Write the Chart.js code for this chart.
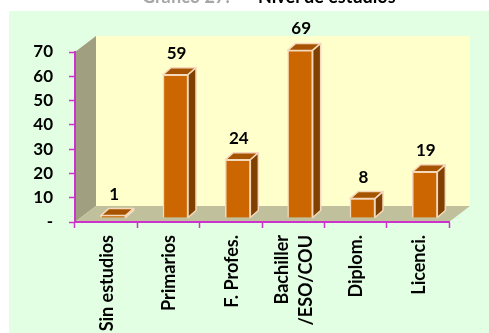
<!DOCTYPE html>
<html>
<head>
<meta charset="utf-8">
<style>
html, body { margin: 0; padding: 0; background: #fff; overflow: hidden; }
canvas { display: block; }
</style>
<script src="https://cdn.jsdelivr.net/npm/chart.js@4/dist/chart.umd.min.js"></script>
</head>
<body>
<canvas id="niveles" width="489" height="333"></canvas>
<script>
const categorias = ['Sin estudios', 'Primarios', 'F. Profes.', ['Bachiller', '/ESO/COU'], 'Diplom.', 'Licenci.'];
const valores = [1, 59, 24, 69, 8, 19];

const FUENTE = 'Lato, Carlito, sans-serif';
const MAGENTA = '#CC33CC';
// profundidad del "3D"
const fondoX = 21, fondoY = -16;
const barraX = 7, barraY = -4;
const ladoX = 8, ladoY = -7;

const decoracion = {
    id: 'decoracion',
    beforeDraw(chart) {
        const c = chart.ctx, a = chart.chartArea;
        c.save();
        c.fillStyle = '#E3FFE3';
        c.fillRect(9, 11, 480, 322);
        // titulo, cortado por arriba como en el original
        c.textBaseline = 'alphabetic';
        c.textAlign = 'left';
        c.font = 'bold 18px ' + FUENTE;
        c.fillStyle = '#A6A6A6';
        c.fillText('Gráfico 27.-', 142, 3);
        c.fillStyle = '#000';
        c.fillText('Nivel de estudios', 258, 3);
        // pared del fondo
        c.fillStyle = '#FFFFCC';
        c.fillRect(a.left + fondoX, a.top + fondoY, a.width, a.height);
        // pared lateral
        c.fillStyle = '#A0A080';
        c.beginPath();
        c.moveTo(a.left, a.top);
        c.lineTo(a.left + fondoX, a.top + fondoY);
        c.lineTo(a.left + fondoX, a.bottom + fondoY);
        c.lineTo(a.left, a.bottom);
        c.fill();
        // suelo
        c.fillStyle = '#C0C09C';
        c.beginPath();
        c.moveTo(a.left, a.bottom);
        c.lineTo(a.left + fondoX, a.bottom + fondoY);
        c.lineTo(a.right + fondoX, a.bottom + fondoY);
        c.lineTo(a.right, a.bottom);
        c.fill();
        c.restore();
    },
    beforeDatasetsDraw(chart) {
        const c = chart.ctx;
        c.save();
        c.translate(barraX, barraY);
        chart.getDatasetMeta(0).data.forEach(function (b) {
            const izq = b.x - b.width / 2, der = b.x + b.width / 2;
            c.lineWidth = 1.5;
            c.strokeStyle = '#F5D9BC';
            c.lineJoin = 'round';
            // cara de arriba
            c.fillStyle = '#A65300';
            c.beginPath();
            c.moveTo(izq, b.y);
            c.lineTo(izq + ladoX, b.y + ladoY);
            c.lineTo(der + ladoX, b.y + ladoY);
            c.lineTo(der, b.y);
            c.closePath();
            c.fill();
            c.stroke();
            // cara lateral
            c.fillStyle = '#804000';
            c.beginPath();
            c.moveTo(der, b.y);
            c.lineTo(der + ladoX, b.y + ladoY);
            c.lineTo(der + ladoX, b.base + ladoY);
            c.lineTo(der, b.base);
            c.closePath();
            c.fill();
            c.stroke();
        });
    },
    afterDatasetsDraw(chart) {
        const c = chart.ctx;
        c.restore();
        c.save();
        c.font = 'bold 17px ' + FUENTE;
        c.fillStyle = '#000';
        c.textAlign = 'center';
        c.textBaseline = 'alphabetic';
        chart.getDatasetMeta(0).data.forEach(function (b, i) {
            c.fillText(valores[i], b.x + 8, b.y - 20);
        });
        // etiquetas del eje x, giradas, a mano por las de dos lineas
        c.font = 'bold 18px ' + FUENTE;
        c.textAlign = 'right';
        c.textBaseline = 'middle';
        const sx = chart.scales.x;
        categorias.forEach(function (cat, i) {
            const lineas = [].concat(cat);
            lineas.forEach(function (txt, j) {
                const x = sx.getPixelForValue(i) + 1 + (j - (lineas.length - 1) / 2) * 24;
                c.save();
                c.translate(x, 235);
                c.rotate(-Math.PI / 2);
                c.fillText(txt, 0, 0);
                c.restore();
            });
        });
        c.restore();
    }
};

new Chart(document.getElementById('niveles').getContext('2d'), {
    type: 'bar',
    data: {
        labels: categorias,
        datasets: [{
            data: valores,
            backgroundColor: '#CC6600',
            borderColor: '#F5D9BC',
            borderWidth: 1.5,
            barThickness: 25
        }]
    },
    plugins: [decoracion],
    options: {
        responsive: false,
        animation: false,
        layout: { padding: { top: 52, right: 40, left: 0, bottom: 0 } },
        plugins: {
            legend: { display: false },
            title: { display: false },
            tooltip: { enabled: false }
        },
        scales: {
            x: {
                afterFit(s) { s.height = 111; },
                border: { color: MAGENTA, width: 2 },
                grid: { drawOnChartArea: false, color: MAGENTA, tickLength: 6, tickWidth: 1.5 },
                ticks: { display: false, autoSkip: false }
            },
            y: {
                min: 0,
                max: 70,
                afterFit(s) { s.width = 75; },
                border: { color: MAGENTA, width: 2 },
                grid: { drawOnChartArea: false, color: MAGENTA, tickLength: 6, tickWidth: 1.5 },
                ticks: {
                    stepSize: 10,
                    padding: 16,
                    color: '#000',
                    font: { family: FUENTE, size: 17, weight: 'bold' },
                    callback: function (v) { return v === 0 ? '-' : v; }
                }
            }
        }
    }
});
</script>
</body>
</html>
